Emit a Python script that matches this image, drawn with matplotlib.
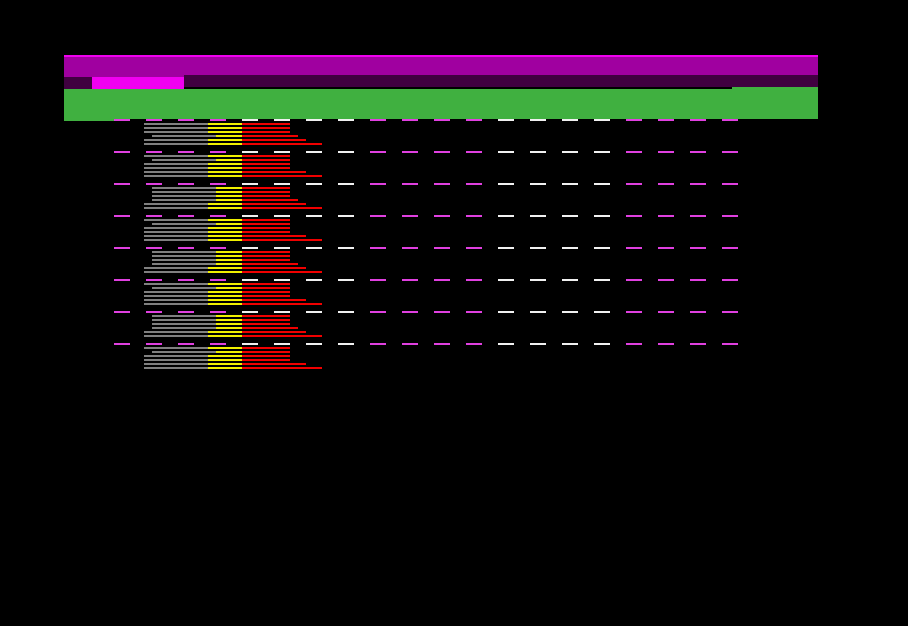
from matplotlib import pyplot as plt

# valores (eixo x em pixels da imagem)
gray_start = [
    [144, 144, 144, 152, 144, 144],
    [144, 152, 144, 144, 144, 144],
    [152, 152, 152, 152, 144, 144],
    [144, 152, 144, 144, 144, 144],
    [152, 152, 152, 152, 144, 144],
    [144, 152, 144, 144, 144, 144],
    [152, 152, 152, 152, 144, 144],
    [144, 152, 144, 144, 144, 144],
]
gray_end = [
    [208, 208, 208, 216, 208, 208],
    [208, 216, 208, 208, 208, 208],
    [216, 216, 216, 216, 208, 208],
    [208, 216, 208, 208, 208, 208],
    [216, 216, 216, 216, 208, 208],
    [208, 216, 208, 208, 208, 208],
    [216, 216, 216, 216, 208, 208],
    [208, 216, 208, 208, 208, 208],
]
yellow_end = [[242] * 6 for g in range(8)]
red_end = [
    [290, 290, 290, 298, 306, 322],
    [290, 290, 290, 290, 306, 322],
    [290, 290, 290, 298, 306, 322],
    [290, 290, 290, 290, 306, 322],
    [290, 290, 290, 298, 306, 322],
    [290, 290, 290, 290, 306, 322],
    [290, 290, 290, 298, 306, 322],
    [290, 290, 290, 290, 306, 322],
]

# faixas do cabecalho
header_lo = 64
header_hi = 818
sel_start = 92
sel_end = 184
green_step = 732

# trechos coloridos das linhas tracejadas
grid_breaks = [114, 242, 370, 498, 626, 738]
grid_colors = ['#e040e0', '#f0f0f0', '#e040e0', '#f0f0f0', '#e040e0']

fig = plt.figure(figsize=(9.08, 6.26), dpi=100, facecolor='black')
ax = fig.add_axes([0, 0, 1, 1])
ax.set_facecolor('black')
ax.set_xlim(0, 908)
ax.set_ylim(626, 0)
ax.axis('off')

# cabecalho
ax.broken_barh([(header_lo, header_hi - header_lo)], (55, 2), facecolors='#f000f0')
ax.broken_barh([(header_lo, header_hi - header_lo)], (57, 20), facecolors='#a000a0')
ax.broken_barh([(header_lo, sel_start - header_lo)], (77, 12), facecolors='#400040')
ax.broken_barh([(sel_end, header_hi - sel_end)], (75, 12), facecolors='#400040')
ax.broken_barh([(sel_start, sel_end - sel_start)], (77, 12), facecolors='#f000f0')
ax.broken_barh([(header_lo, header_hi - header_lo)], (89, 32), facecolors='#40b040')
ax.broken_barh([(green_step, header_hi - green_step)], (87, 2), facecolors='#40b040')

# linhas tracejadas de cada grupo
for g in range(len(gray_start)):
    y = 120 + 32 * g
    ax.broken_barh([(grid_breaks[0], header_hi - grid_breaks[0])], (y - 1, 2), facecolors='black')
    for k in range(len(grid_colors)):
        dashes = [(x, 16) for x in range(grid_breaks[k], grid_breaks[k + 1], 32)]
        ax.broken_barh(dashes, (y - 1, 2), facecolors=grid_colors[k])

# barras empilhadas
for g in range(len(gray_start)):
    for i in range(len(gray_start[g])):
        y = 124 + 32 * g + 4 * i
        ax.barh(y, gray_end[g][i] - gray_start[g][i], left=gray_start[g][i],
                height=2, color='#808080', linewidth=0)
        ax.barh(y, yellow_end[g][i] - gray_end[g][i], left=gray_end[g][i],
                height=2, color='#f0f000', linewidth=0)
        ax.barh(y, red_end[g][i] - yellow_end[g][i], left=yellow_end[g][i],
                height=2, color='#f00000', linewidth=0)

plt.savefig('out.png', dpi=100, facecolor='black')
